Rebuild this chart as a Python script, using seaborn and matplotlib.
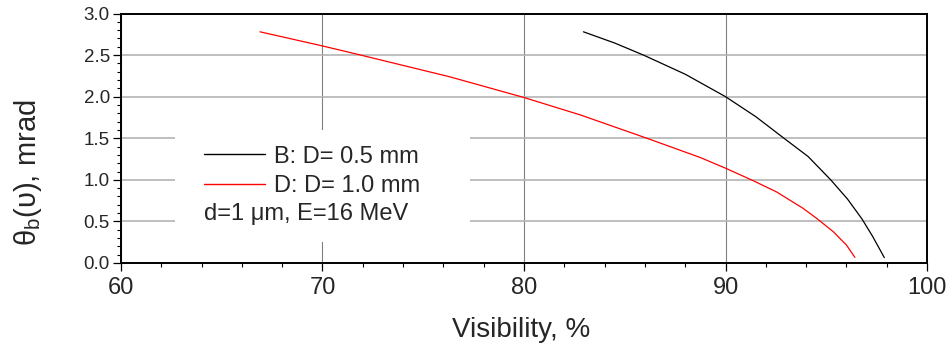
import matplotlib
matplotlib.use('Agg')
import matplotlib.pyplot as plt
import seaborn as sns
import pandas as pd
from matplotlib.patches import Rectangle
from matplotlib.ticker import MultipleLocator

# Data
red_label = 'D: D= 1.0 mm'
red_x = [66.9, 70.0, 71.9, 76.3, 80.0, 82.8, 86.1, 88.73, 90.0, 91.37, 92.53, 93.85, 94.52, 95.35, 96.0, 96.42]
red_y = [2.78, 2.61, 2.50, 2.24, 1.99, 1.78, 1.50, 1.27, 1.14, 0.99, 0.855, 0.657, 0.537, 0.376, 0.216, 0.068]

black_label = 'B: D= 0.5 mm'
black_x = [82.95, 84.5, 85.93, 88.0, 90.0, 91.5, 92.9, 94.1, 95.22, 96.05, 96.77, 97.3, 97.88]
black_y = [2.78, 2.645, 2.50, 2.27, 2.0, 1.76, 1.50, 1.28, 1.0, 0.77, 0.53, 0.32, 0.065]

note_text = 'd=1 \u03bcm, E=16 MeV'
x_label = 'Visibility, %'
y_label = '$\\mathregular{\u03b8_b(\u03c5)}$, mrad'
x_ticks = [60, 70, 80, 90, 100]
y_ticks = [0.0, 0.5, 1.0, 1.5, 2.0, 2.5, 3.0]

sns.set_style('ticks')
plt.rcParams['font.family'] = ['Liberation Sans', 'DejaVu Sans']
plt.rcParams['mathtext.fontset'] = 'custom'
plt.rcParams['mathtext.rm'] = 'Liberation Sans'
plt.rcParams['mathtext.it'] = 'Liberation Sans'

df = pd.concat([
    pd.DataFrame({'x': black_x, 'y': black_y, 'series': black_label}),
    pd.DataFrame({'x': red_x, 'y': red_y, 'series': red_label}),
], ignore_index=True)

fig = plt.figure(figsize=(9.51, 3.5), dpi=100)
ax = fig.add_axes([0.1272, 0.2486, 0.8476, 0.7128])

sns.lineplot(data=df, x='x', y='y', hue='series',
             palette={black_label: '#000000', red_label: '#ff0000'},
             sort=False, estimator=None, linewidth=0.9, ax=ax, zorder=3)

ax.set_xlim(60, 100)
ax.set_ylim(0, 3.0)
ax.set_xticks(x_ticks)
ax.set_yticks(y_ticks)
ax.set_yticklabels([f'{v:.1f}' for v in y_ticks])
ax.xaxis.set_minor_locator(MultipleLocator(2))
ax.yaxis.set_minor_locator(MultipleLocator(0.1))

ax.set_axisbelow(True)
ax.xaxis.grid(True, which='major', color='#808080', linewidth=0.8)
ax.yaxis.grid(True, which='major', color='#b4b4b4', linewidth=1.2)

for s in ax.spines.values():
    s.set_linewidth(1.4)
    s.set_color('black')

ax.tick_params(axis='both', which='major', direction='out', length=6, width=0.9, color='black')
ax.tick_params(axis='both', which='minor', direction='out', length=3, width=0.8, color='black')
ax.tick_params(axis='x', which='major', labelsize=17, pad=4)
ax.tick_params(axis='y', which='major', labelsize=13.5, pad=2)

# white box behind the legend (hides gridlines)
ax.add_patch(Rectangle((0.067, 0.084), 0.366, 0.449, transform=ax.transAxes,
                       facecolor='white', edgecolor='none', zorder=1))

handles, labels = ax.get_legend_handles_labels()
leg = ax.legend(handles, labels, loc='upper left', bbox_to_anchor=(0.103, 0.47),
                frameon=False, fontsize=17, handlelength=2.6, handletextpad=0.35,
                labelspacing=0.3, borderpad=0, borderaxespad=0)
for lh in leg.get_lines():
    lh.set_linewidth(1.0)
ax.text(0.103, 0.195, note_text, transform=ax.transAxes, fontsize=17,
        ha='left', va='center', zorder=4)

ax.set_xlabel(x_label, fontsize=20)
ax.set_ylabel(y_label, fontsize=21)
ax.xaxis.set_label_coords(0.496, -0.215)
ax.yaxis.set_label_coords(-0.095, 0.36)

fig.savefig('out.png', dpi=100)
